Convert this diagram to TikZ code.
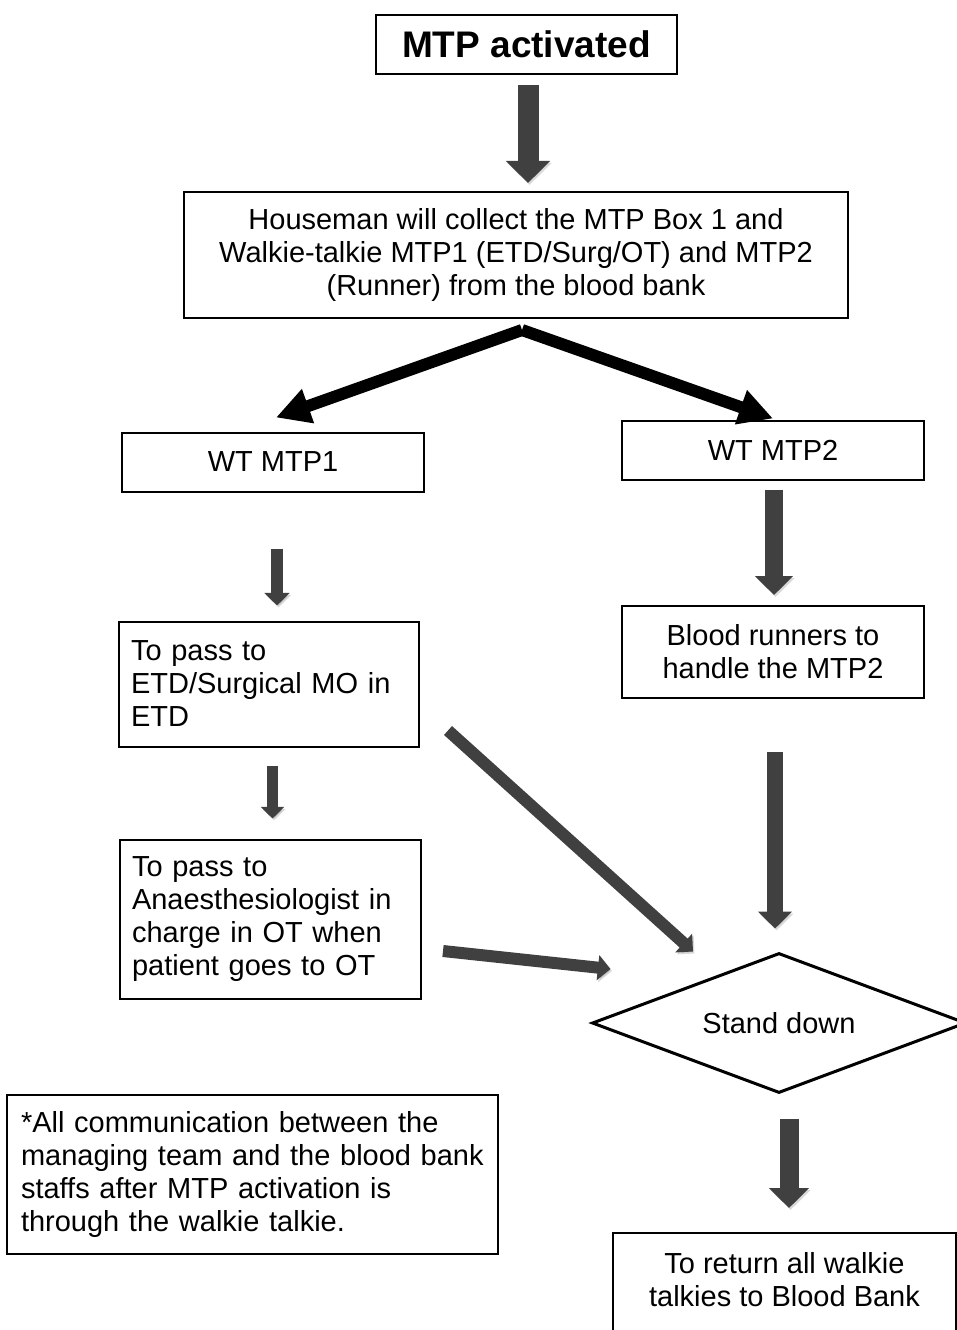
\documentclass[tikz,border=0pt]{standalone}
\usepackage{fontspec}
\setmainfont{Liberation Sans}
\usetikzlibrary{arrows.meta,shapes.geometric}
\definecolor{arrowgray}{HTML}{404040}

\begin{document}
\begin{tikzpicture}[x=1pt,y=-1pt,
	box/.style={draw,line width=2pt,inner sep=0pt,font=\fontsize{29}{33}\selectfont},
	leftbox/.style={box,align=left,inner xsep=12pt},
	garrow/.style={draw=arrowgray,line width=#1,-{Triangle[width=0pt 2.05,length=0pt 1.05]},
		preaction={draw=black,opacity=0.15,transform canvas={shift={(1.5pt,-2pt)}}}},
	barrow/.style={draw=black,line width=12pt,-{Triangle[width=34pt,length=34pt]}}]
	\useasboundingbox (0,0) rectangle (957,1330);

	\node[box,minimum width=301pt,minimum height=59pt,font=\fontsize{37}{44}\selectfont\bfseries] (title) at (526.5,44.5) {MTP activated};
	\node[box,align=center,minimum width=664pt,minimum height=126pt] (house) at (516,255) {Houseman will collect the MTP Box 1 and\\Walkie-talkie MTP1 (ETD/Surg/OT) and MTP2\\(Runner) from the blood bank};
	\node[box,minimum width=302pt,minimum height=59pt] (wt1) at (273,462) {WT MTP1};
	\node[box,minimum width=302pt,minimum height=59pt] (wt2) at (773,450) {WT MTP2};
	\node[leftbox,text width=276pt,minimum height=125pt] (etd) at (269,684) {To pass to\\ETD/Surgical MO in\\ETD};
	\node[box,align=center,minimum width=302pt,minimum height=92pt] (runners) at (773,652) {Blood runners to\\handle the MTP2};
	\node[leftbox,text width=277pt,minimum height=159pt] (anaes) at (270.5,919) {To pass to\\Anaesthesiologist in\\charge in OT when\\patient goes to OT};
	\node[box,diamond,aspect=2.67,line width=3pt,minimum width=374pt,minimum height=140pt] (stand) at (779,1023) {Stand down};
	\node[leftbox,text width=463pt,inner xsep=14pt,minimum height=159pt] (note) at (252.5,1174) {*All communication between the\\\mbox{managing team and the blood bank}\\staffs after MTP activation is\\through the walkie talkie.};
	\node[box,align=center,minimum width=343pt,minimum height=126pt,anchor=north] (ret) at (784.5,1232) {To return all walkie\\talkies to Blood Bank\\\mbox{}};

	% arrows
	\draw[garrow=21pt,shorten <=10pt,shorten >=8pt] ([xshift=1.5pt]title.south) -- ([xshift=1.5pt]title.south |- house.north);
	\coordinate (split) at ([xshift=6pt,yshift=-11pt]house.south);
	\draw[barrow] (split) -- ([xshift=3pt,yshift=14pt]wt1.north);
	\draw[barrow] (split) -- ([yshift=1pt]wt2.north);
	\draw[garrow=12pt,shorten <=56pt,shorten >=15pt] ([xshift=4pt]wt1.south) -- ([xshift=4pt]wt1.south |- etd.north);
	\draw[garrow=11pt,shorten <=18pt,shorten >=20pt] ([xshift=3.5pt]etd.south) -- ([xshift=3.5pt]etd.south |- anaes.north);
	\draw[garrow=18pt,shorten <=9pt,shorten >=10pt] ([xshift=1pt]wt2.south) -- ([xshift=1pt]wt2.south |- runners.north);
	\draw[garrow=16pt,shorten <=53pt,shorten >=23pt] ([xshift=2pt]runners.south) -- ([xshift=2pt]runners.south |- stand.north);
	\draw[garrow=12pt] ([xshift=28pt,yshift=17pt]etd.south east) -- ([xshift=-86pt]stand.north);
	\draw[garrow=12pt] ([xshift=21pt,yshift=-32pt]anaes.east) -- ([xshift=20pt,yshift=54pt]stand.west);
	\draw[garrow=19pt,shorten <=24pt,shorten >=24pt] ([xshift=10pt]stand.south) -- ([xshift=10pt]stand.south |- ret.north);
\end{tikzpicture}
\end{document}
